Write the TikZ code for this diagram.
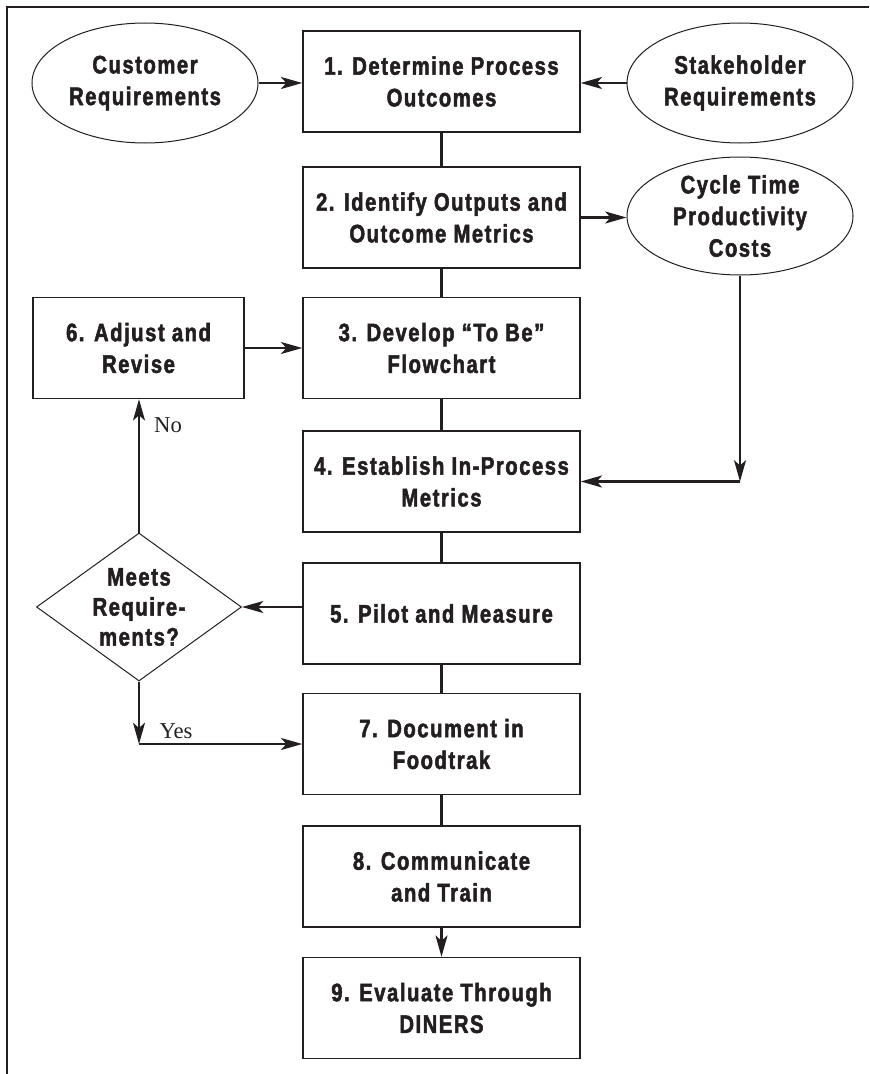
\documentclass[tikz,border=0pt]{standalone}
\usepackage{fontspec}
\setmainfont{Liberation Sans}[FakeStretch=0.8, LetterSpace=6, BoldFeatures={FakeBold=2}]
\newfontfamily\labelfont{Liberation Serif}
\usetikzlibrary{arrows.meta,shapes.geometric}
\definecolor{ink}{HTML}{231F20}

\begin{document}
\begin{tikzpicture}[x=0.75pt,y=-0.75pt,
  every node/.style={font=\fontsize{19}{23.75}\selectfont\bfseries, text=ink, align=center},
  stepbox/.style={draw=ink, line width=1.1pt, minimum width=207.75pt, minimum height=75.75pt, inner sep=0pt},
  oval/.style={ellipse, draw=ink, line width=0.75pt, minimum width=169.5pt, minimum height=90pt, inner sep=0pt},
  decision/.style={diamond, draw=ink, line width=0.75pt, minimum width=153.75pt, minimum height=111pt, inner sep=0pt},
  answer/.style={font=\labelfont\fontsize{17}{20}\selectfont, text=ink},
  link/.style={draw=ink, line width=1.6pt},
  arr/.style={link, -{Stealth[length=16pt,width=9pt,inset=4pt]}},
  ]
\useasboundingbox (0,0) rectangle (869,1074);

% outer frame (top and left rules)
\draw[ink, line width=1.3pt] (7,1074) -- (7,7) -- (869,7);

% main column of steps
\node[stepbox] (b1) at (441.5,81.5)  {1. Determine Process\\Outcomes};
\node[stepbox] (b2) at (441.5,217.5) {2. Identify Outputs and\\Outcome Metrics};
\node[stepbox] (b3) at (441.5,348)   {3. Develop “To Be”\\Flowchart};
\node[stepbox] (b4) at (441.5,481.5) {4. Establish In-Process\\Metrics};
\node[stepbox] (b5) at (441.5,613.5) {5. Pilot and Measure};
\node[stepbox] (b7) at (441.5,744)   {7. Document in\\Foodtrak};
\node[stepbox] (b8) at (441.5,876.5) {8. Communicate\\and Train};
\node[stepbox] (b9) at (441.5,1008)  {9. Evaluate Through\\DINERS};

% side step and decision
\node[stepbox, minimum width=158.25pt] (b6) at (138.5,348) {6. Adjust and\\Revise};
\node[decision] (dia) at (139,607) {};
\node[font=\fontsize{19}{22.5}\selectfont\bfseries] (diatext) at (dia.center) {Meets\\Require-\\ments?};

% inputs and metrics
\node[oval] (cust)  at (145,83)  {Customer\\Requirements};
\node[oval] (stake) at (740,83)  {Stakeholder\\Requirements};
\node[oval, minimum height=88.5pt] (cyc) at (740,216) {Cycle Time\\Productivity\\Costs};

% plain links along the column
\draw[link] (b1) -- (b2);
\draw[link] (b2) -- (b3);
\draw[link] (b3) -- (b4);
\draw[link] (b4) -- (b5);
\draw[link] (b5) -- (b7);
\draw[link] (b7) -- (b8);

% arrows
\draw[arr] (cust.east) -- (cust.east -| b1.west);
\draw[arr] (stake.west) -- (stake.west -| b1.east);
\draw[arr] (b2.east) -- (b2.east -| cyc.west);
\coordinate (bend) at (cyc.south |- b4.east);
\draw[arr] (cyc.south) -- (bend);
\draw[arr] (bend) -- (b4.east);
\draw[arr] (b6) -- (b3);
\draw[arr] (b5.west |- dia.east) -- (dia.east);
\draw[arr] (dia.north) -- (dia.north |- b6.south);
\coordinate (yesbend) at (dia.south |- b7.west);
\draw[arr] (dia.south) -- (yesbend);
\draw[arr] (yesbend) -- (b7.west);
\draw[arr] (b8) -- (b9);

% decision answers
\node[answer] (no)  at (168,425) {No};
\node[answer] (yes) at (176,731) {Yes};
\end{tikzpicture}
\end{document}
